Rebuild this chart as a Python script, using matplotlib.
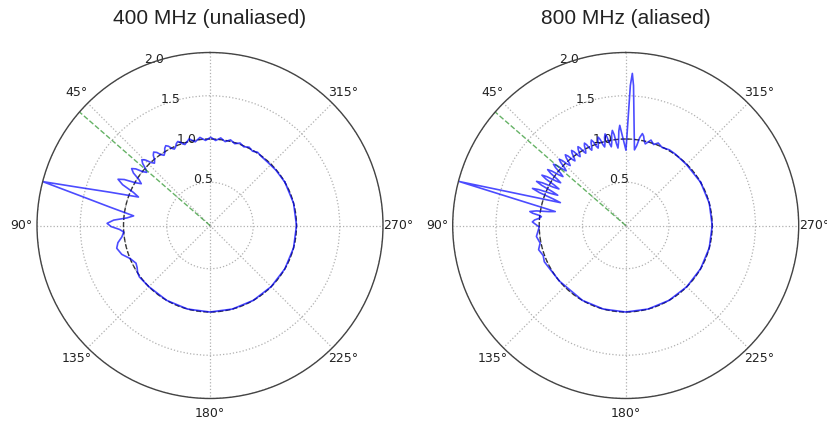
import numpy as np
import matplotlib.pyplot as plt

titles = ["400 MHz (unaliased)", "800 MHz (aliased)"]
steer_deg = 49.0
r_ticks = [0.5, 1.0, 1.5, 2.0]
r_tick_labels = ["0.5", "1.0", "1.5", "2.0"]
theta_ticks = [0, 45, 90, 135, 180, 225, 270, 315]
theta_tick_labels = ["", "45°", "90°", "135°", "180°", "225°", "270°", "315°"]

# 400 MHz pattern, angles in degrees (0 = north, counter-clockwise)
theta_400 = [-60, -50, -42, -36.5, -33, -29.8, -26.5, -23.2, -20, -16.8,
             -13.5, -10.2, -7, -3.8, -0.5, 3, 6.5, 10, 13.5, 17.2,
             18.47, 19.73, 21, 22.33, 23.67, 25, 26.33, 27.67, 29, 30.4,
             31.8, 33.2, 34.63, 36.07, 37.5, 38.9, 40.3, 41.7, 43.13, 44.57,
             46, 47.33, 48.67, 50, 51.33, 52.67, 54, 55.57, 57.13, 58.7,
             60.2, 61.8, 63.3, 64.97, 66.63, 68.3, 71.6, 73.75, 75.3, 77.1,
             79.6, 82.8, 84.8, 86.8, 88.8, 90.63, 92.47, 94.3, 97.43, 100.57,
             103.7, 108.13, 112.57, 117, 120, 123, 126, 135, 150, 165,
             180, 195, 210, 225, 240, 255, 270, 285, 300]
r_400 = [1.0, 0.995, 0.99, 0.995, 1.01, 0.99, 1.012, 0.99, 1.015, 0.988,
         1.018, 0.985, 1.02, 0.985, 1.02, 0.985, 1.025, 0.982, 1.03, 0.98,
         0.995, 1.025, 1.04, 1.024, 0.991, 0.975, 0.995, 1.035, 1.055, 1.034,
         0.991, 0.97, 0.995, 1.045, 1.07, 1.044, 0.991, 0.965, 0.998, 1.063,
         1.095, 1.06, 0.99, 0.955, 0.996, 1.079, 1.12, 1.073, 0.978, 0.93,
         0.995, 1.125, 1.19, 1.115, 0.965, 0.89, 1.22, 1.57, 2.0, 1.54,
         1.175, 0.89, 0.965, 1.115, 1.19, 1.143, 1.048, 1.0, 1.028, 1.083,
         1.11, 1.073, 0.998, 0.96, 0.973, 0.998, 1.01, 1.0, 1.0, 1.0,
         1.0, 1.0, 1.0, 1.0, 1.0, 1.0, 1.0, 1.0, 1.0]

# 800 MHz pattern (grating lobe near 0 deg)
theta_800 = [-60, -45, -35, -30, -25, -21.5, -19, -16.5, -13.5, -12.43,
             -11.37, -10.3, -9.07, -7.83, -6.6, -4.2, -3.2, -2.5, -1.9, -1.4,
             -0.2, 3.4, 4.17, 4.93, 5.7, 6.47, 7.23, 8.0, 8.78, 9.57,
             10.35, 11.13, 11.92, 12.7, 13.47, 14.23, 15.0, 15.77, 16.53, 17.3,
             18.07, 18.83, 19.6, 20.37, 21.13, 21.9, 22.68, 23.47, 24.25, 25.03,
             25.82, 26.6, 27.37, 28.13, 28.9, 29.67, 30.43, 31.2, 31.97, 32.73,
             33.5, 34.27, 35.03, 35.8, 36.58, 37.37, 38.15, 38.93, 39.72, 40.5,
             41.27, 42.03, 42.8, 43.57, 44.33, 45.1, 45.87, 46.63, 47.4, 48.17,
             48.93, 49.7, 50.48, 51.27, 52.05, 52.83, 53.62, 54.4, 55.17, 55.93,
             56.7, 57.47, 58.23, 59.0, 59.77, 60.53, 61.3, 62.09, 62.87, 63.66,
             64.44, 65.22, 66.0, 66.77, 67.53, 68.3, 69.1, 69.9, 70.7, 73.9,
             75.2, 76.35, 78.8, 79.77, 80.73, 81.7, 82.47, 83.23, 84, 85.27,
             86.53, 87.8, 91, 97, 101.6, 105.5, 110, 114, 120, 130,
             150, 165, 180, 195, 210, 225, 240, 255, 270, 285,
             300]
r_800 = [1.0, 0.995, 1.005, 1.01, 0.995, 1.025, 0.99, 1.03, 0.97, 0.998,
         1.053, 1.08, 1.03, 0.93, 0.88, 1.3, 1.62, 1.76, 1.62, 1.3,
         0.87, 1.16, 1.095, 0.965, 0.9, 0.953, 1.058, 1.11, 1.064, 0.971,
         0.925, 0.965, 1.045, 1.085, 1.049, 0.976, 0.94, 0.973, 1.038, 1.07,
         1.04, 0.98, 0.95, 0.979, 1.036, 1.065, 1.038, 0.983, 0.955, 0.983,
         1.038, 1.065, 1.038, 0.983, 0.955, 0.983, 1.038, 1.065, 1.038, 0.983,
         0.955, 0.984, 1.041, 1.07, 1.04, 0.98, 0.95, 0.981, 1.044, 1.075,
         1.043, 0.978, 0.945, 0.98, 1.05, 1.085, 1.048, 0.973, 0.935, 0.975,
         1.055, 1.095, 1.051, 0.964, 0.92, 0.968, 1.063, 1.11, 1.058, 0.953,
         0.9, 0.958, 1.073, 1.13, 1.068, 0.943, 0.88, 0.948, 1.083, 1.15,
         1.078, 0.933, 0.86, 0.935, 1.085, 1.16, 1.07, 0.89, 0.80, 1.39,
         1.99, 1.38, 0.83, 0.903, 1.048, 1.12, 1.085, 1.015, 0.98, 1.005,
         1.055, 1.08, 1.0, 1.04, 1.01, 1.045, 1.015, 1.03, 1.01, 1.0,
         1.0, 1.0, 1.0, 1.0, 1.0, 1.0, 1.0, 1.0, 1.0, 1.0,
         1.0]

patterns = [(theta_400, r_400), (theta_800, r_800)]
centers_x = [210, 625.7]

W, H = 828, 421
fig = plt.figure(figsize=(W / 100, H / 100), dpi=100)

for i, (th, rr) in enumerate(patterns):
    rad = 173.0
    ax = fig.add_axes([(centers_x[i] - rad) / W, (H - 225.5 - rad) / H,
                       2 * rad / W, 2 * rad / H], projection='polar')
    ax.set_theta_zero_location('N')
    ax.set_theta_direction(1)

    ring = np.linspace(0, 2 * np.pi, 361)
    ax.plot(ring, np.ones_like(ring), '--', color='k', alpha=0.75, lw=1.0)
    ax.plot(np.radians(th), rr, color='b', alpha=0.7, lw=1.2)
    ax.plot([np.radians(steer_deg)] * 2, [0, 2.0], '--', color='g',
            alpha=0.6, lw=1.0)

    ax.set_ylim(0, 2.0)
    ax.set_rgrids(r_ticks, r_tick_labels, fontsize=9, color='#222222')
    ax.set_rlabel_position(22.5)
    ax.set_thetagrids(theta_ticks, theta_tick_labels, fontsize=9,
                      color='#222222')
    ax.tick_params(axis='x', pad=0.5)
    ax.grid(True, color='#b0b0b0', linestyle=':', linewidth=0.9)
    ax.spines['polar'].set_color('#444444')
    ax.spines['polar'].set_linewidth(1.0)

    fig.text(centers_x[i] / W, 1 - 19 / H, titles[i], ha='center',
             va='center', fontsize=15, family='Liberation Sans',
             color='#222222')

fig.savefig('out.png', dpi=100)
